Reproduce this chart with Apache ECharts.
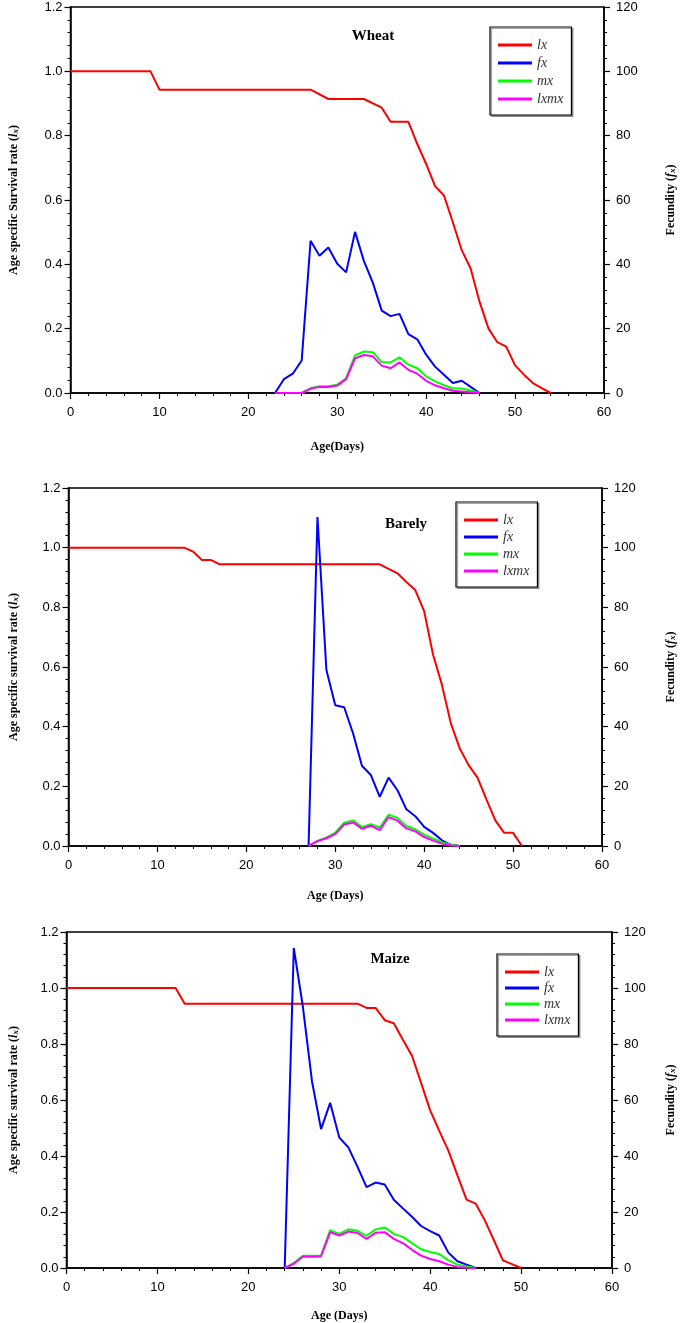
<!DOCTYPE html>
<html><head><meta charset="utf-8">
<script src="https://cdn.jsdelivr.net/npm/echarts@6/dist/echarts.min.js"></script>
<style>html,body{margin:0;padding:0;background:#fff}#c{width:685px;height:1323px}</style>
</head><body><div id="c"></div>
<script>
// ---------- DATA ----------
const panelTitles = ['Wheat', 'Barely', 'Maize'];
const seriesNames = ['lx', 'fx', 'mx', 'lxmx'];
const xTitles = ['Age(Days)', 'Age (Days)', 'Age (Days)'];
const leftTitles = ['Age specific Survival rate (', 'Age specific survival rate (', 'Age specific survival rate ('];

// Wheat
const wheatLxAges = [0,9,10,27,29,33,35,36,38,39,40,41,42,43,44,45,46,47,48,49,50,51,52,53,54];
const wheatLx     = [1,1,0.943,0.943,0.914,0.914,0.887,0.843,0.843,0.774,0.712,0.643,0.614,0.531,0.444,0.387,0.284,0.201,0.158,0.144,0.086,0.057,0.031,0.015,0];
const wheatFecAges = [23,24,25,26,27,28,29,30,31,32,33,34,35,36,37,38,39,40,41,42,43,44,45,46];
const wheatFx   = [0,4.3,6.0,10.1,47.3,42.7,45.2,40.2,37.5,50.1,41.0,34.3,25.6,23.9,24.6,18.3,16.7,11.9,8.2,5.7,3.1,3.8,1.9,0];
const wheatMx   = [0,0,0,0,1.5,2.1,2.1,2.6,4.6,11.7,12.9,12.7,9.6,9.5,11.1,8.8,7.7,5.2,3.6,2.4,1.4,1.4,0.8,0];
const wheatLxmx = [0,0,0,0,1.3,1.9,1.9,2.3,4.3,10.8,11.8,11.4,8.5,7.7,9.5,7.2,6.0,3.8,2.4,1.5,0.7,0.5,0.2,0];

// Barley
const barleyLxAges = [0,13,14,15,16,17,35,36,37,38,39,40,41,42,43,44,45,46,47,48,49,50,51];
const barleyLx     = [1,1,0.987,0.959,0.959,0.944,0.944,0.929,0.914,0.885,0.858,0.787,0.641,0.540,0.411,0.327,0.271,0.229,0.156,0.086,0.044,0.044,0];
const barleyFecAges = [27,28,29,30,31,32,33,34,35,36,37,38,39,40,41,42,43,44];
const barleyFx   = [0,110.3,59.1,47.2,46.5,37.8,26.9,23.8,16.5,22.9,18.7,12.3,10.0,6.4,4.4,1.9,0.4,0];
const barleyMx   = [0,1.7,2.8,4.5,7.8,8.6,6.4,7.3,6.2,10.5,9.4,6.7,5.6,3.8,2.5,1.3,0.4,0];
const barleyLxmx = [0,1.6,2.6,4.0,7.2,7.9,5.8,6.8,5.3,9.7,8.5,5.9,4.9,3.0,1.8,0.8,0.2,0];

// Maize
const maizeLxAges = [0,12,13,32,33,34,35,36,37,38,39,40,41,42,43,44,45,46,47,48,49,50];
const maizeLx     = [1,1,0.944,0.944,0.929,0.929,0.885,0.874,0.815,0.758,0.661,0.563,0.490,0.419,0.331,0.244,0.230,0.171,0.100,0.027,0.014,0];
const maizeFecAges = [24,25,26,27,28,29,30,31,32,33,34,35,36,37,38,39,40,41,42,43,44,45];
const maizeFx   = [0,114.3,93.3,66.7,49.6,59.0,46.6,43.1,36.2,28.9,30.5,29.8,24.4,21.3,18.3,15.0,13.2,11.6,5.5,2.4,1.2,0];
const maizeMx   = [0,1.8,4.4,4.4,4.5,13.5,12.2,13.8,13.3,11.5,13.8,14.5,12.2,11.1,8.9,6.7,5.7,5.0,2.7,1.2,0.5,0];
const maizeLxmx = [0,1.5,4.1,4.0,4.2,12.8,11.6,13.0,12.5,10.4,12.6,12.8,10.4,8.9,6.5,4.4,3.2,2.4,1.2,0.4,0.1,0];

// ---------- LAYOUT ----------
const grids = [
  {left: 64, right: 617, top: 7, bottom: 393},
  {left: 62, right: 615, top: 488, bottom: 846},
  {left: 60, right: 625, top: 932, bottom: 1272}
];
const titlePos = [{x: 368, y: 31}, {x: 401, y: 519}, {x: 385, y: 954}];
const legendPos = [
  {left: 490, top: 27, gap: 4},
  {left: 456, top: 502, gap: 3},
  {left: 497, top: 954, gap: 2}
];
const xLabelMargin = [13, 13, 13];
const xNameGap = [48, 44, 42];
const colors = ['#ff0000', '#0000ff', '#00ff00', '#ff00ff'];

const panels = [
  {lxA: wheatLxAges, lx: wheatLx, fA: wheatFecAges, fx: wheatFx, mx: wheatMx, lxmx: wheatLxmx},
  {lxA: barleyLxAges, lx: barleyLx, fA: barleyFecAges, fx: barleyFx, mx: barleyMx, lxmx: barleyLxmx},
  {lxA: maizeLxAges, lx: maizeLx, fA: maizeFecAges, fx: maizeFx, mx: maizeMx, lxmx: maizeLxmx}
];

const pairs = (a, v) => a.map((x, i) => [x, v[i]]);
const serifBold = {fontFamily: 'Liberation Serif', fontWeight: 'bold', color: '#000'};
const richName = {
  a: Object.assign({fontSize: 12}, serifBold),
  i: Object.assign({fontSize: 12, fontStyle: 'italic'}, serifBold),
  s: Object.assign({fontSize: 9, fontStyle: 'italic', verticalAlign: 'bottom', padding: [4, 0, 0, 0]}, serifBold)
};

const option = {
  animation: false,
  backgroundColor: '#fff',
  grid: [], xAxis: [], yAxis: [], series: [], legend: [], title: []
};

grids.forEach((g, p) => {
  option.grid.push({left: g.left, width: g.right - g.left, top: g.top, height: g.bottom - g.top,
    show: true, borderColor: '#000', borderWidth: 1.5, backgroundColor: 'transparent'});
  const axLine = {show: true, lineStyle: {color: '#000', width: 1.5}};
  option.xAxis.push({
    type: 'value', gridIndex: p, min: 0, max: 60, interval: 10,
    axisLine: axLine, axisTick: {show: true, length: 6, inside: false, lineStyle: {color: '#000', width: 1.2}},
    minorTick: {show: true, splitNumber: 5, length: 3, lineStyle: {color: '#000', width: 1}},
    splitLine: {show: false},
    axisLabel: {fontFamily: 'Liberation Sans', fontSize: 13, color: '#000', margin: xLabelMargin[p]},
    name: xTitles[p], nameLocation: 'middle', nameGap: xNameGap[p],
    nameTextStyle: Object.assign({fontSize: 12}, serifBold)
  });
  option.yAxis.push({
    type: 'value', gridIndex: p, min: 0, max: 1.2, interval: 0.2, position: 'left',
    axisLine: axLine, axisTick: {show: true, length: 6, lineStyle: {color: '#000', width: 1.2}},
    minorTick: {show: true, splitNumber: 5, length: 3, lineStyle: {color: '#000', width: 1}},
    splitLine: {show: false},
    axisLabel: {fontFamily: 'Liberation Sans', fontSize: 13, color: '#000', margin: 8, formatter: v => v.toFixed(1)},
    name: '{a|' + leftTitles[p] + '}{i|l}{s|x}{a|)}', nameLocation: 'middle', nameRotate: 90,
    nameGap: g.left - 14,
    nameTextStyle: {rich: richName}
  });
  option.yAxis.push({
    type: 'value', gridIndex: p, min: 0, max: 120, interval: 20, position: 'right',
    axisLine: axLine, axisTick: {show: true, length: 6, lineStyle: {color: '#000', width: 1.2}},
    minorTick: {show: true, splitNumber: 5, length: 3, lineStyle: {color: '#000', width: 1}},
    splitLine: {show: false},
    axisLabel: {fontFamily: 'Liberation Sans', fontSize: 13, color: '#000', margin: 12},
    name: '{a|Fecundity (}{i|f}{s|x}{a|)}', nameLocation: 'middle', nameRotate: 90,
    nameGap: 677 - g.right,
    nameTextStyle: {rich: richName}
  });
  const d = panels[p];
  const sData = [pairs(d.lxA, d.lx), pairs(d.fA, d.fx), pairs(d.fA, d.mx), pairs(d.fA, d.lxmx)];
  seriesNames.forEach((n, k) => {
    option.series.push({
      name: n, type: 'line', xAxisIndex: p, yAxisIndex: k === 0 ? 2 * p : 2 * p + 1,
      data: sData[k], showSymbol: false, symbol: 'none', clip: true,
      lineStyle: {color: colors[k], width: 2}, itemStyle: {color: colors[k]}, z: 2 + k
    });
  });
  option.title.push({
    text: panelTitles[p], left: titlePos[p].x, top: titlePos[p].y, textAlign: 'center', textVerticalAlign: 'middle',
    textStyle: Object.assign({fontSize: 15}, serifBold)
  });
  option.legend.push({
    data: seriesNames, orient: 'vertical', left: legendPos[p].left, top: legendPos[p].top,
    icon: 'rect', itemWidth: 34, itemHeight: 3, itemGap: legendPos[p].gap,
    padding: [11, 8, 9, 8], borderColor: '#000', borderWidth: 1.2, backgroundColor: '#fff',
    shadowColor: 'rgba(0,0,0,0.35)', shadowOffsetX: 1.5, shadowOffsetY: 1.5, shadowBlur: 0,
    selectedMode: false,
    textStyle: {fontFamily: 'Liberation Serif', fontStyle: 'italic', fontSize: 14, color: '#333', lineHeight: 14}
  });
});

const chart = echarts.init(document.getElementById('c'), null, {renderer: 'canvas'});
chart.setOption(option);
</script>
</body></html>
